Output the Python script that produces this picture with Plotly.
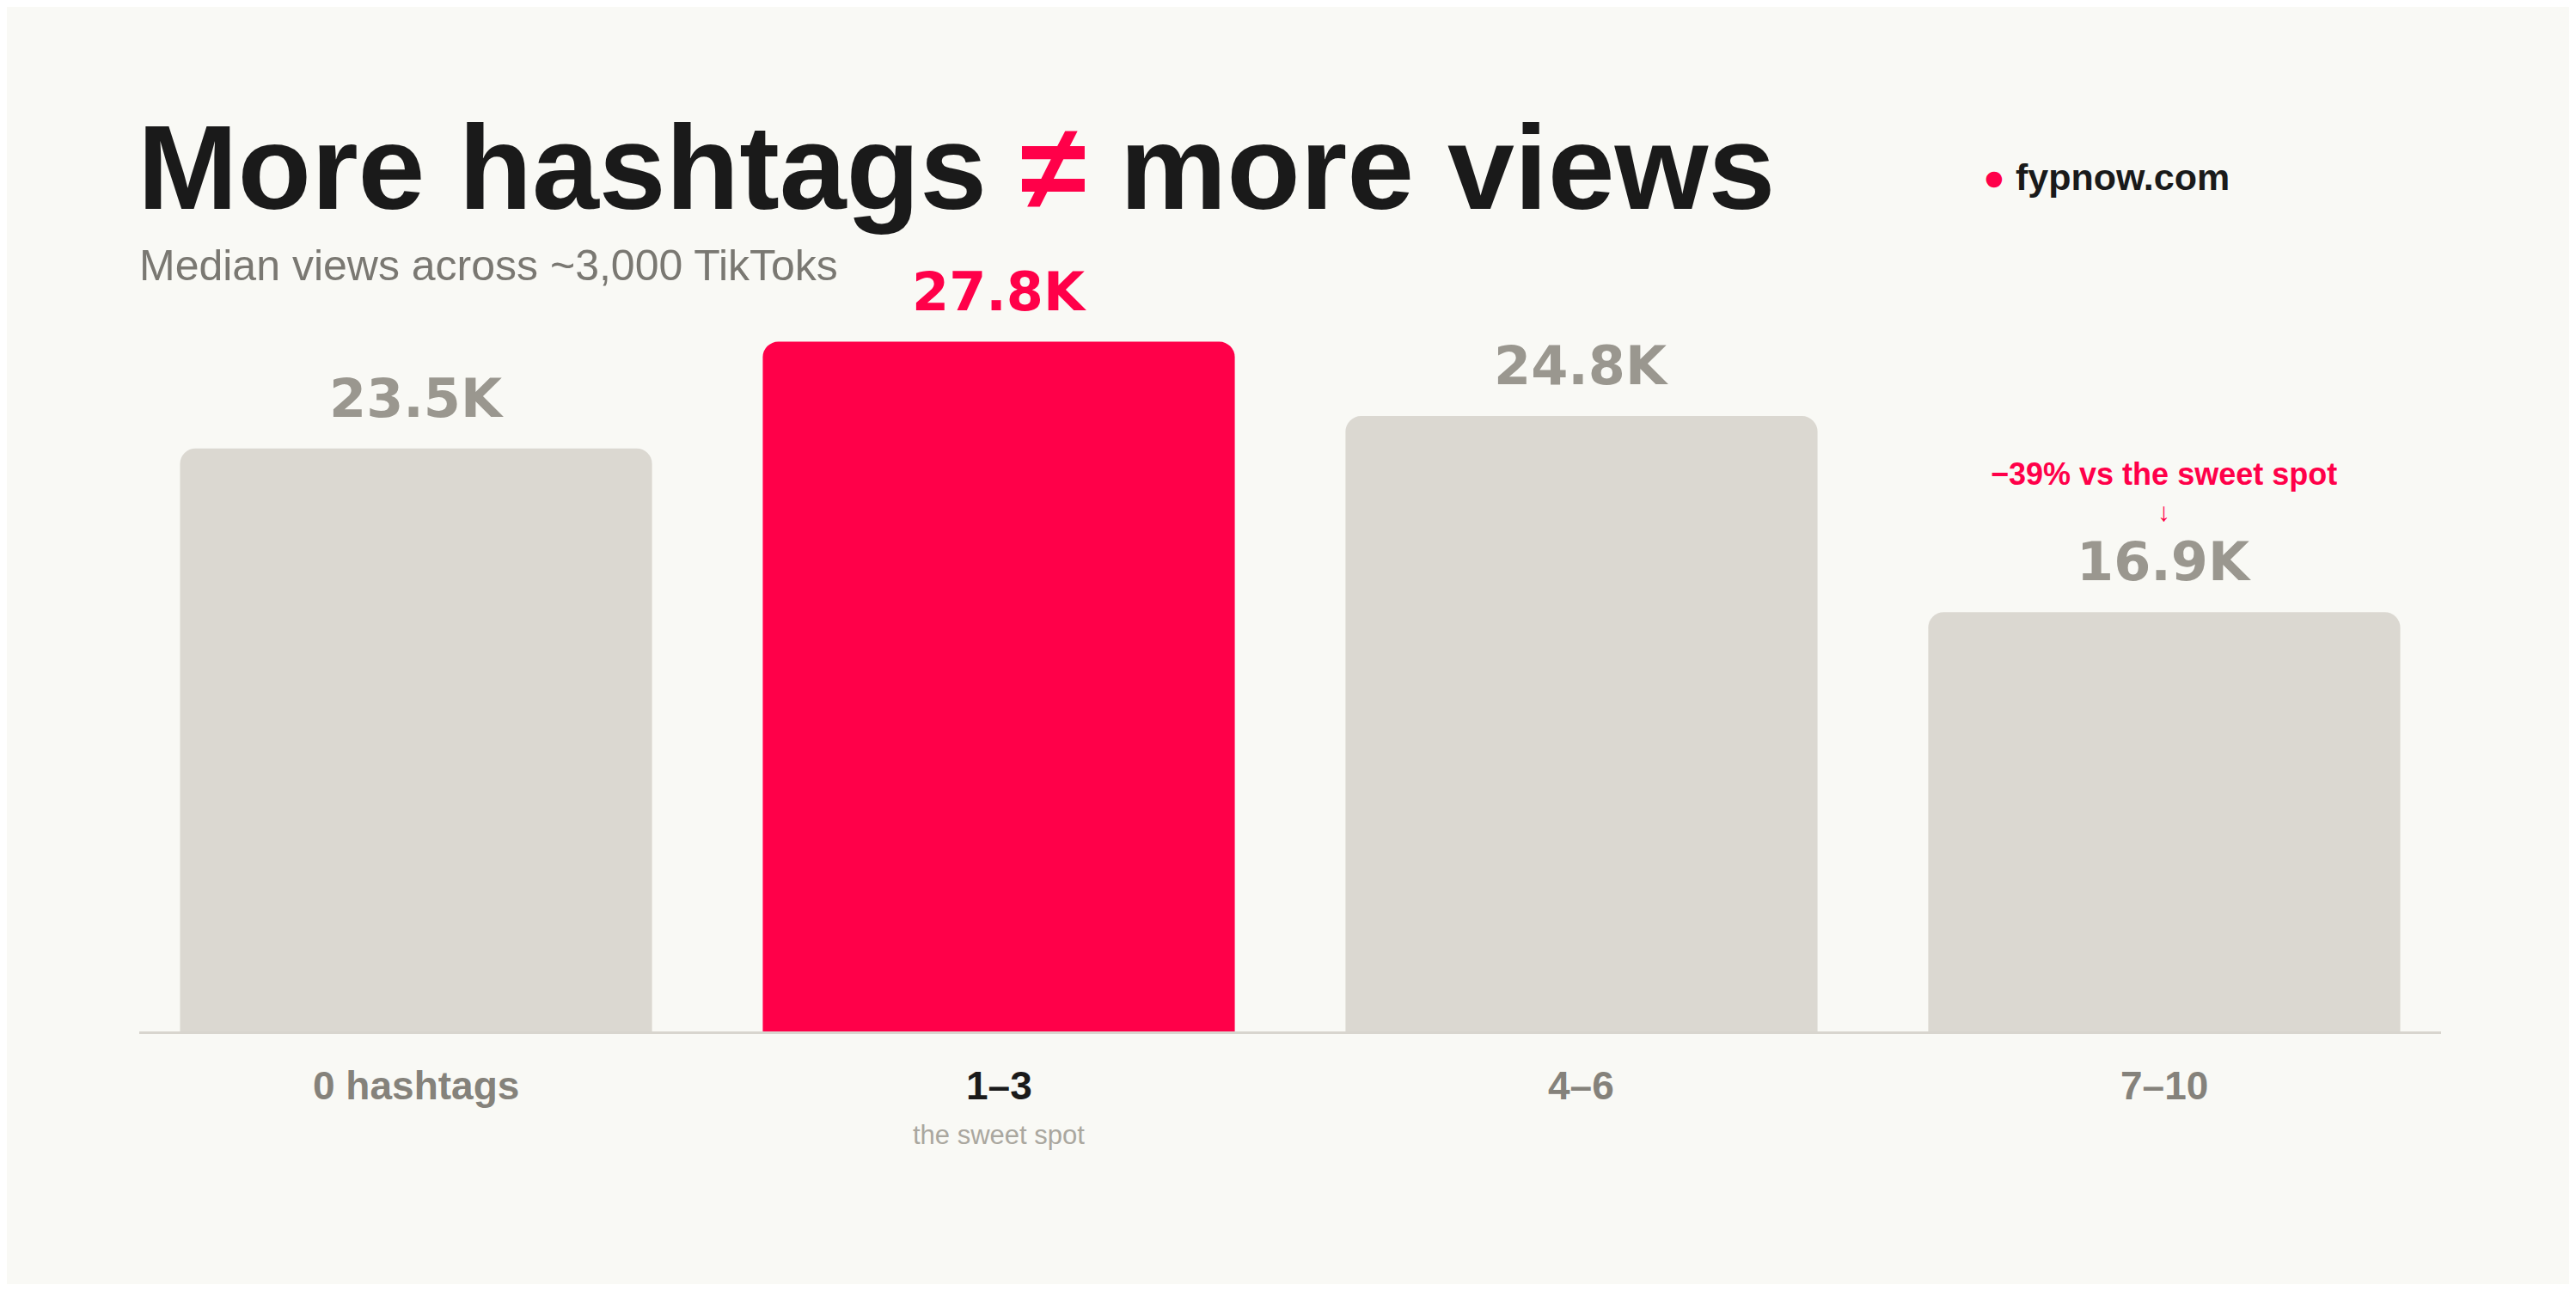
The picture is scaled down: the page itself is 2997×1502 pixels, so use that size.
import plotly.graph_objects as go

categories = ["0 hashtags", "1–3", "4–6", "7–10"]
values = [23.5, 27.8, 24.8, 16.9]
value_labels = ["23.5K", "27.8K", "24.8K", "16.9K"]
sublabels = ["", "the sweet spot", "", ""]
highlight = 1

BG = "#f9f9f5"; GRAY = "#dbd8d1"; RED = "#ff0049"; LBL = "#9a978f"; DARK = "#1a1a1a"
FONT = "Liberation Sans"
HEAVY = "DejaVu Sans"

def px(xd): return (xd - 85) / (1486 - 85)
def py(yd): return (628 - yd) / (628 - 175)

colors = [RED if i == highlight else GRAY for i in range(len(values))]
fig = go.Figure(go.Bar(x=categories, y=values, marker=dict(color=colors, line=dict(width=0)),
                       width=0.81, hoverinfo="skip"))

ann = []
for i, (c, v, t) in enumerate(zip(categories, values, value_labels)):
    ann.append(dict(x=c, y=v, xref="x", yref="y", text=f"<b>{t}</b>", showarrow=False,
                    yanchor="bottom", yshift=20,
                    font=dict(family=HEAVY, size=62, color=RED if i == highlight else LBL)))
    ann.append(dict(x=c, y=py(661), xref="x", yref="paper", text=f"<b>{c}</b>", showarrow=False,
                    yanchor="middle", font=dict(family=FONT, size=46, color=DARK if i == highlight else "#85827b")))
    if sublabels[i]:
        ann.append(dict(x=c, y=py(691), xref="x", yref="paper", text=sublabels[i], showarrow=False,
                        yanchor="middle", font=dict(family=FONT, size=31, color="#aaa79f")))

ann.append(dict(x=categories[3], y=py(289), xref="x", yref="paper", text="<b>−39% vs the sweet spot</b>",
                showarrow=False, yanchor="middle", font=dict(family=FONT, size=36, color=RED)))
ann.append(dict(x=categories[3], y=py(312), xref="x", yref="paper", text="↓",
                showarrow=False, yanchor="middle", font=dict(family=FONT, size=30, color=RED)))

ann.append(dict(x=px(83), y=py(102), xref="paper", yref="paper", xanchor="left", yanchor="middle",
                text="<b>More hashtags <span style='color:%s'>≠</span> more views</b>" % RED,
                showarrow=False, font=dict(family=FONT, size=140, color=DARK)))
ann.append(dict(x=px(84), y=py(162), xref="paper", yref="paper", xanchor="left", yanchor="middle",
                text="Median views across ~3,000 TikToks", showarrow=False,
                font=dict(family=FONT, size=50, color="#7a7872")))
ann.append(dict(x=px(1206), y=py(108), xref="paper", yref="paper", xanchor="left", yanchor="middle",
                text="<span style='color:%s'>●</span> <b>fypnow.com</b>" % RED, showarrow=False,
                font=dict(family=FONT, size=43, color=DARK)))

fig.update_layout(
    width=2981, height=1486, paper_bgcolor=BG, plot_bgcolor=BG,
    margin=dict(l=154, r=149, t=326, b=294), barcornerradius=18,
    showlegend=False, annotations=ann,
    xaxis=dict(range=[-0.475, 3.475], showticklabels=False, showline=True, linecolor="#d8d5ce",
               linewidth=3, showgrid=False, zeroline=False, fixedrange=True),
    yaxis=dict(range=[0, 30], visible=False, showgrid=False, zeroline=False, fixedrange=True),
)
fig.write_html("out.html")
